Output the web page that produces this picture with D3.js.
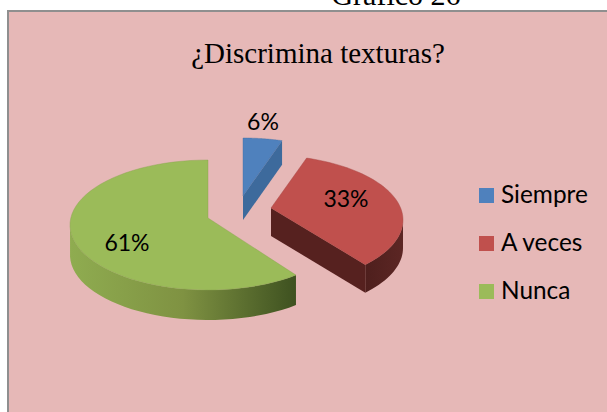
<!DOCTYPE html>
<html><head><meta charset="utf-8">
<script src="https://cdn.jsdelivr.net/npm/d3@7"></script>
<style>html,body{margin:0;padding:0;background:#fff;overflow:hidden}svg{display:block}</style>
</head><body><svg id="c" width="607" height="412"></svg>
<script>
const categories = ["Siempre", "A veces", "Nunca"];
const values = [6, 33, 61];
const topColors = ["#4f81bd", "#c0504d", "#9bbb59"];
const cutColors = ["#3d6a9c", "#56211f", "#4a5f27"];
const wallStops = [["#3d6a9c","#3d6a9c"], ["#4e1f1d","#5c2624"], ["#8fac50","#7f9242","#3e5120"]];
const labelSpots = [[263,122],[346,199],[127,243]];
// Exploded position of each slice: apex, centre of the perspective ellipse, angle warp in degrees
const apexes = [[243,196],[271,208],[208,218]];
const ellipseCentres = [[243,203],[265,220],[208,225]];
const warps = [14, 11, 0];
const depths = [24, 28, 30];
const RX = 138, RY = 65;

const svg = d3.select("#c");
svg.append("rect").attr("x",8).attr("y",11).attr("width",600).attr("height",403)
  .attr("fill","#e6b8b7").attr("stroke","#8f8f8f").attr("stroke-width",2);
svg.append("text").attr("x",396).attr("y",5).attr("text-anchor","middle")
  .attr("font-family","Liberation Serif").attr("font-size",30).attr("fill","#000").text("Gráfico 26");
svg.append("text").attr("x",318).attr("y",63).attr("text-anchor","middle")
  .attr("font-family","Liberation Serif").attr("font-size",29).attr("fill","#000").text("¿Discrimina texturas?");

const defs = svg.append("defs");
wallStops.forEach((stops,i)=>{
  const g = defs.append("linearGradient").attr("id","wall"+i);
  stops.forEach((c,j)=>g.append("stop").attr("offset",j/(stops.length-1)).attr("stop-color",c));
});

const arcs = d3.pie().sort(null).startAngle(0).endAngle(2*Math.PI)(values);
const line = d3.line();
const order = [2,1,0];
order.forEach(i=>{
  const a = arcs[i], [ax,ay] = apexes[i], [ex,ey] = ellipseCentres[i], d = depths[i];
  const warp = t => t - warps[i]*Math.PI/180*Math.sin(t);
  const pt = t => [ex + RX*Math.sin(warp(t)), ey - RY*Math.cos(warp(t))];
  const samples = d3.range(0,61).map(k=>a.startAngle + (a.endAngle-a.startAngle)*k/60);
  const rim = samples.map(pt);
  // outer wall: the part of the rim that faces the viewer
  const front = rim.filter(p=>p[1] >= ey - 2);
  if (i !== 0 && front.length > 1) {
    const poly = front.concat(front.slice().reverse().map(p=>[p[0],p[1]+d]));
    svg.append("path").attr("d",line(poly)+"Z").attr("fill","url(#wall"+i+")");
  }
  // cut face on the slice's closing edge, visible when it looks toward the viewer
  if (a.endAngle < Math.PI) {
    const e = pt(a.endAngle);
    svg.append("path").attr("d",line([[ax,ay],e,[e[0],e[1]+d],[ax,ay+d]])+"Z").attr("fill",cutColors[i]);
  }
  svg.append("path").attr("d",line([[ax,ay],...rim])+"Z")
    .attr("fill",topColors[i]).attr("stroke",d3.color(topColors[i]).darker(0.4)).attr("stroke-opacity",0.5).attr("stroke-width",0.8);
});

const font = "Lato";
svg.append("g").selectAll("text").data(values).join("text")
  .attr("x",(d,i)=>labelSpots[i][0]).attr("y",(d,i)=>labelSpots[i][1]+8)
  .attr("text-anchor","middle").attr("font-family",font).attr("font-size",23).attr("fill","#000")
  .text(d=>d+"%");

const legendY = d3.scalePoint().domain(categories).range([188,284]);
const leg = svg.append("g").selectAll("g").data(categories).join("g")
  .attr("transform",d=>`translate(479,${legendY(d)})`);
leg.append("rect").attr("width",15).attr("height",15).attr("fill",(d,i)=>topColors[i]);
leg.append("text").attr("x",22).attr("y",15).attr("font-family",font).attr("font-size",24.4).attr("fill","#000").text(d=>d);
</script></body></html>
